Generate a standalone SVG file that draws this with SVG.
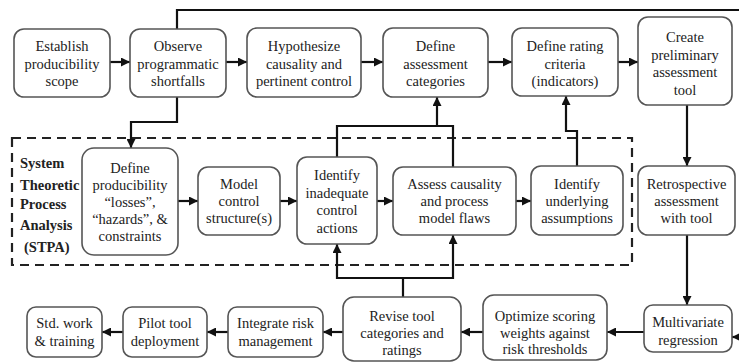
<svg xmlns="http://www.w3.org/2000/svg" width="739" height="362" viewBox="0 0 739 362">
<style>
.box{fill:#fff;stroke:#555;stroke-width:1.6}
.t{font-family:"Liberation Serif","Times New Roman",serif;font-size:14.5px;fill:#222;text-anchor:middle}
.lbl{font-family:"Liberation Serif","Times New Roman",serif;font-size:14.5px;font-weight:bold;fill:#222}
.ln{fill:none;stroke:#111;stroke-width:2.2}
.dash{fill:none;stroke:#222;stroke-width:2.2;stroke-dasharray:9 6}
</style>
<defs>
<marker id="ah" viewBox="0 0 10 10" refX="10" refY="5" markerWidth="10" markerHeight="9" markerUnits="userSpaceOnUse" orient="auto">
<path d="M0,0 L10,5 L0,10 z" fill="#111"/>
</marker>
</defs>
<rect class="dash" x="12" y="138" width="620" height="127"/>
<g id="label-stpa">
<text class="lbl" x="20" y="168">System</text>
<text class="lbl" x="20" y="190">Theoretic</text>
<text class="lbl" x="20" y="209">Process</text>
<text class="lbl" x="20" y="230">Analysis</text>
<text class="lbl" x="24" y="252">(STPA)</text>
</g>
<g id="connectors">
<path class="ln" d="M177,29 V10 H739"/>
<path class="ln" d="M110,62 H130" marker-end="url(#ah)"/>
<path class="ln" d="M226,62 H247" marker-end="url(#ah)"/>
<path class="ln" d="M361,62 H383" marker-end="url(#ah)"/>
<path class="ln" d="M488,62 H512" marker-end="url(#ah)"/>
<path class="ln" d="M618,62 H638" marker-end="url(#ah)"/>
<path class="ln" d="M177,97 V122 H131 V148" marker-end="url(#ah)"/>
<path class="ln" d="M178,201 H198" marker-end="url(#ah)"/>
<path class="ln" d="M280,201 H297" marker-end="url(#ah)"/>
<path class="ln" d="M377,201 H393" marker-end="url(#ah)"/>
<path class="ln" d="M516,201 H531" marker-end="url(#ah)"/>
<path class="ln" d="M337,157 V126 H453 V167"/>
<path class="ln" d="M437,126 V97" marker-end="url(#ah)"/>
<path class="ln" d="M577,166 V131 H566 V96" marker-end="url(#ah)"/>
<path class="ln" d="M687,105 V166" marker-end="url(#ah)"/>
<path class="ln" d="M687,235 V305" marker-end="url(#ah)"/>
<path class="ln" d="M739,337 H732" marker-end="url(#ah)"/>
<path class="ln" d="M644,332 H607" marker-end="url(#ah)"/>
<path class="ln" d="M483,332 H461" marker-end="url(#ah)"/>
<path class="ln" d="M403,297 V278 H337 V244" marker-end="url(#ah)"/>
<path class="ln" d="M403,278 H453 V235" marker-end="url(#ah)"/>
<path class="ln" d="M343,332 H323" marker-end="url(#ah)"/>
<path class="ln" d="M228,332 H207" marker-end="url(#ah)"/>
<path class="ln" d="M123,332 H102" marker-end="url(#ah)"/>
</g>
<g id="n-establish"><rect class="box" x="14" y="29" width="96" height="68" rx="10"/>
<text class="t" x="62" y="51">Establish</text><text class="t" x="62" y="68.5">producibility</text><text class="t" x="62" y="86">scope</text></g>
<g id="n-observe"><rect class="box" x="130" y="29" width="96" height="68" rx="10"/>
<text class="t" x="178" y="51">Observe</text><text class="t" x="178" y="68.5">programmatic</text><text class="t" x="178" y="86">shortfalls</text></g>
<g id="n-hypothesize"><rect class="box" x="247" y="28" width="114" height="69" rx="10"/>
<text class="t" x="304" y="51">Hypothesize</text><text class="t" x="304" y="68.5">causality and</text><text class="t" x="304" y="86">pertinent control</text></g>
<g id="n-define-categories"><rect class="box" x="383" y="28" width="105" height="69" rx="10"/>
<text class="t" x="435.5" y="51">Define</text><text class="t" x="435.5" y="68.5">assessment</text><text class="t" x="435.5" y="86">categories</text></g>
<g id="n-define-rating"><rect class="box" x="512" y="28" width="106" height="68" rx="10"/>
<text class="t" x="565" y="51">Define rating</text><text class="t" x="565" y="68.5">criteria</text><text class="t" x="565" y="86">(indicators)</text></g>
<g id="n-create-tool"><rect class="box" x="638" y="17" width="94" height="88" rx="10"/>
<text class="t" x="685" y="42">Create</text><text class="t" x="685" y="59.5">preliminary</text><text class="t" x="685" y="77">assessment</text><text class="t" x="685" y="94.5">tool</text></g>
<g id="n-define-losses"><rect class="box" x="82" y="148" width="96" height="107" rx="12"/>
<text class="t" x="130" y="173">Define</text><text class="t" x="130" y="190">producibility</text><text class="t" x="130" y="207">“losses”,</text><text class="t" x="130" y="224">“hazards”, &amp;</text><text class="t" x="130" y="241">constraints</text></g>
<g id="n-model"><rect class="box" x="198" y="167" width="82" height="68" rx="10"/>
<text class="t" x="239" y="189">Model</text><text class="t" x="239" y="206">control</text><text class="t" x="239" y="223">structure(s)</text></g>
<g id="n-identify-uca"><rect class="box" x="297" y="157" width="80" height="87" rx="10"/>
<text class="t" x="337" y="180">Identify</text><text class="t" x="337" y="197.5">inadequate</text><text class="t" x="337" y="215">control</text><text class="t" x="337" y="232.5">actions</text></g>
<g id="n-assess"><rect class="box" x="393" y="167" width="123" height="68" rx="10"/>
<text class="t" x="454.5" y="189">Assess causality</text><text class="t" x="454.5" y="206">and process</text><text class="t" x="454.5" y="223">model flaws</text></g>
<g id="n-underlying"><rect class="box" x="531" y="166" width="92" height="69" rx="10"/>
<text class="t" x="577" y="189">Identify</text><text class="t" x="577" y="206">underlying</text><text class="t" x="577" y="223">assumptions</text></g>
<g id="n-retrospective"><rect class="box" x="638" y="166" width="97" height="69" rx="10"/>
<text class="t" x="686.5" y="189">Retrospective</text><text class="t" x="686.5" y="206">assessment</text><text class="t" x="686.5" y="223">with tool</text></g>
<g id="n-multivariate"><rect class="box" x="644" y="305" width="88" height="47" rx="9"/>
<text class="t" x="688" y="327">Multivariate</text><text class="t" x="688" y="345">regression</text></g>
<g id="n-optimize"><rect class="box" x="483" y="295" width="124" height="65" rx="11"/>
<text class="t" x="545" y="321">Optimize scoring</text><text class="t" x="545" y="337.5">weights against</text><text class="t" x="545" y="354">risk thresholds</text></g>
<g id="n-revise"><rect class="box" x="343" y="297" width="118" height="64" rx="11"/>
<text class="t" x="402" y="321">Revise tool</text><text class="t" x="402" y="338">categories and</text><text class="t" x="402" y="355">ratings</text></g>
<g id="n-integrate"><rect class="box" x="228" y="307" width="95" height="50" rx="9"/>
<text class="t" x="275.5" y="328">Integrate risk</text><text class="t" x="275.5" y="346">management</text></g>
<g id="n-pilot"><rect class="box" x="123" y="307" width="84" height="50" rx="9"/>
<text class="t" x="165" y="328">Pilot tool</text><text class="t" x="165" y="346">deployment</text></g>
<g id="n-std"><rect class="box" x="27" y="307" width="75" height="50" rx="9"/>
<text class="t" x="64.5" y="328">Std. work</text><text class="t" x="64.5" y="346">&amp; training</text></g>
</svg>
